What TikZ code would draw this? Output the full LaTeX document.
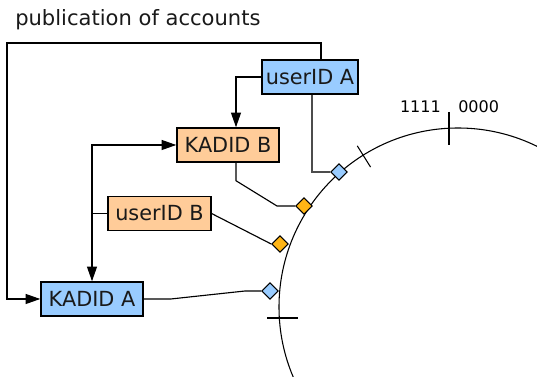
\documentclass[tikz,border=0pt]{standalone}
\usepackage{fontspec}
\setmainfont{DejaVu Sans}
\usetikzlibrary{shapes.geometric,arrows.meta}
\definecolor{boxblue}{HTML}{99CCFF}
\definecolor{boxorange}{HTML}{FFCC99}
\definecolor{dorange}{HTML}{FFB515}
\begin{document}
\begin{tikzpicture}[x=0.75pt,y=-0.75pt,
  box/.style={draw=black, line width=1.1pt, minimum height=25.5pt, inner sep=0pt,
    font=\fontsize{15.6}{18}\selectfont, text=black!90},
  bluebox/.style={box, fill=boxblue},
  orangebox/.style={box, fill=boxorange},
  conn/.style={draw=black, line width=0.85pt},
  arr/.tip={Triangle[length=11pt,width=7.5pt]},
  tip/.style={-arr},
  dmd/.style={diamond, draw=black, line width=0.7pt, inner sep=0pt, minimum width=12.5pt, minimum height=12.5pt},
  bluedmd/.style={dmd, fill=boxblue},
  orangedmd/.style={dmd, fill=dorange},
  ringline/.style={draw=black, line width=0.8pt},
  ticklbl/.style={font=\fontsize{12}{14}\selectfont, inner sep=0pt}
]
\useasboundingbox (0,0) rectangle (537,377);
\clip (0,0) rectangle (537,377);

% title
\node[anchor=base west, inner sep=0pt, font=\fontsize{15.8}{18}\selectfont, text=black!90] (title) at (15,26) {publication of accounts};

% ring
\coordinate (c) at (458,307);
\draw[ringline] (c) circle[radius=179];
\draw[ringline] (449,112) -- (449,145);
\draw[ringline] ([shift={(-122:165)}]c) -- ([shift={(-122:190)}]c);
\draw[ringline] (267,318) -- (298,318);
\node[ticklbl, anchor=east] (l1) at (441,107) {1111};
\node[ticklbl, anchor=west] (l0) at (458,107) {0000};

% boxes
\node[bluebox, minimum width=72pt] (uA) at (310,77) {userID A};
\node[orangebox, minimum width=76.5pt] (kB) at (228,145) {KADID B};
\node[orangebox, minimum width=77pt] (uB) at (159.5,213.5) {userID B};
\node[bluebox, minimum width=76.5pt] (kA) at (92,299) {KADID A};

% diamonds
\node[bluedmd] (dA1) at (339,172) {};
\node[orangedmd] (dB1) at (304,206) {};
\node[orangedmd] (dB2) at (280,244) {};
\node[bluedmd] (dA2) at (270,291) {};

% connectors
\coordinate (top) at (7,43);
\draw[conn, tip] ([xshift=8.25pt]uA.north) |- (top) |- (kA.west);
\draw[conn, tip] (uA.west) -| ([xshift=6pt]kB.north);
\draw[conn, arr-arr] (kB.west) -| (kA.north);
\draw[conn] (uB.west) -- (uB.west -| kA.north);
\draw[conn, draw=black!70] ([xshift=1.5pt]uA.south) |- (dA1.west);
\coordinate (k1) at (277,206);
\draw[conn] ([xshift=6pt]kB.south) -- ++(0,18) -- (k1) -- (dB1.west);
\draw[conn] (uB.east) -- (dB2.west);
\coordinate (k2) at (245,291);
\draw[conn] (kA.east) -- ++(27,0) -- (k2) -- (dA2.west);
\end{tikzpicture}
\end{document}
